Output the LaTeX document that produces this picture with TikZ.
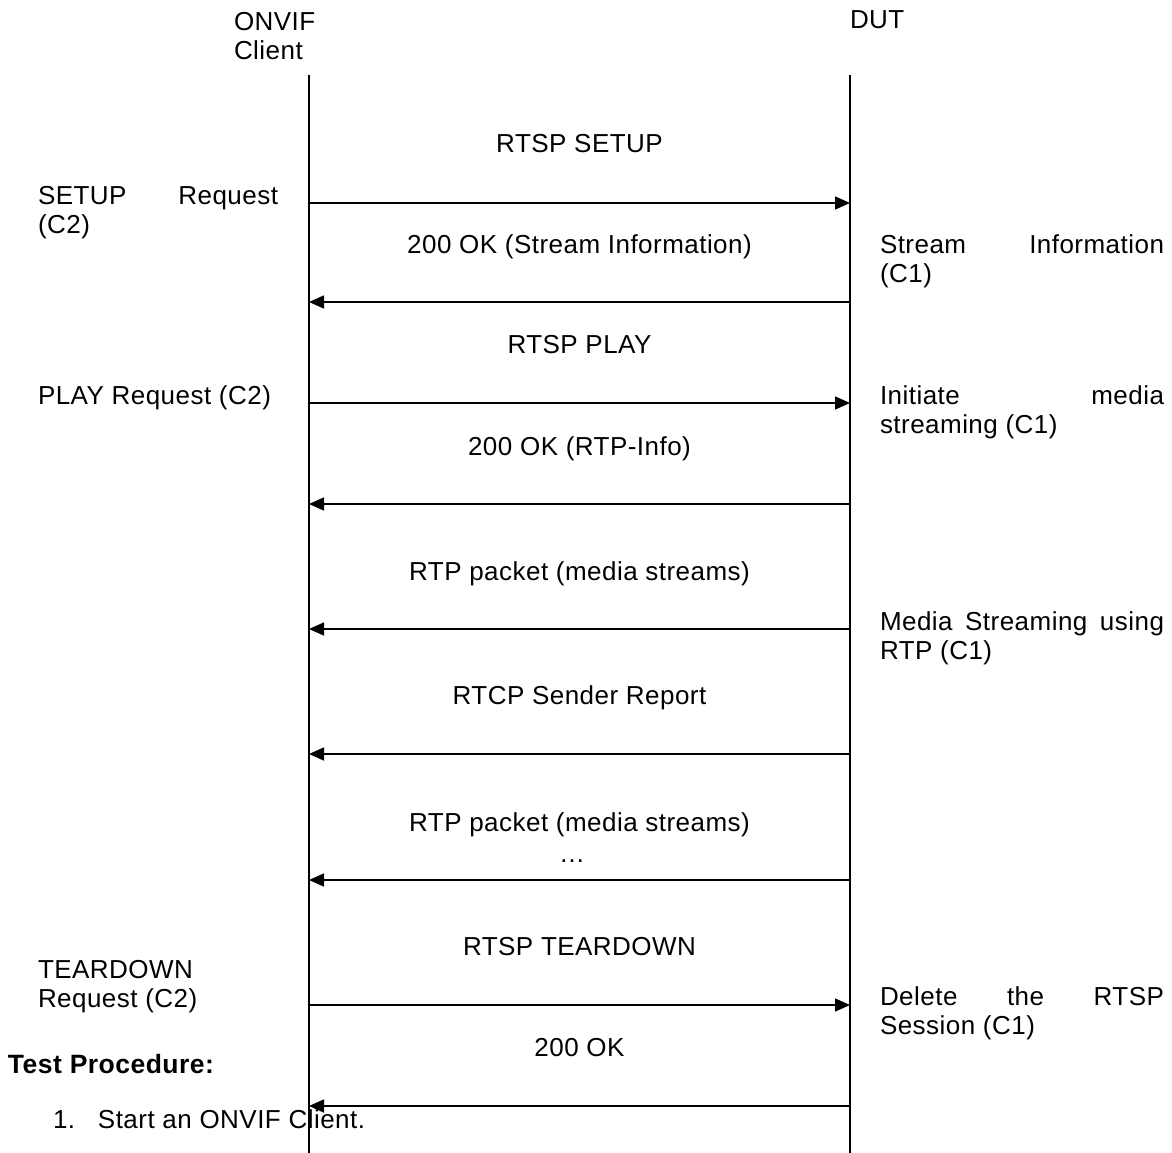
\documentclass[tikz,border=0pt]{standalone}
\usepackage{fontspec}
\setmainfont[LetterSpace=1.8]{Liberation Sans}
\usetikzlibrary{arrows.meta}
\begin{document}
\begin{tikzpicture}[x=1pt,y=-1pt,
  txt/.style={inner sep=0pt,outer sep=0pt,font=\fontsize{26}{29.5}\selectfont},
  lbl/.style={txt,anchor=base},
  side/.style={txt,anchor=base west},
  life/.style={line width=1.6pt},
  msg/.style={line width=1.6pt,-{Triangle[length=15pt,width=13pt]}}]
\useasboundingbox (0,0) rectangle (1172,1153);
% headers
\node[side] (hclient) at (234,30.5) {\parbox[t]{120pt}{ONVIF\\Client}};
\node[side] (hdut) at (850,29) {DUT};
% lifelines
\coordinate (ctop) at (309,75);
\coordinate (cbot) at (309,1153);
\coordinate (dtop) at (850,75);
\coordinate (dbot) at (850,1153);
\draw[life] (ctop) -- (cbot);
\draw[life] (dtop) -- (dbot);
% message anchor points
\foreach \n/\y in {1/203,2/302,3/403,4/504,5/629,6/754,7/880,8/1005,9/1106}{
  \coordinate (c\n) at (309,\y);
  \coordinate (d\n) at (850,\y);
}
\draw[msg] (c1) -- (d1);
\draw[msg] (d2) -- (c2);
\draw[msg] (c3) -- (d3);
\draw[msg] (d4) -- (c4);
\draw[msg] (d5) -- (c5);
\draw[msg] (d6) -- (c6);
\draw[msg] (d7) -- (c7);
\draw[msg] (c8) -- (d8);
\draw[msg] (d9) -- (c9);
% message labels
\node[lbl] (m1) at (579.5,152) {RTSP SETUP};
\node[lbl] (m2) at (579.5,253) {200 OK (Stream Information)};
\node[lbl] (m3) at (579.5,353) {RTSP PLAY};
\node[lbl] (m4) at (579.5,455) {200 OK (RTP-Info)};
\node[lbl] (m5) at (579.5,580) {RTP packet (media streams)};
\node[lbl] (m6) at (579.5,704) {RTCP Sender Report};
\node[lbl] (m7) at (579.5,831) {RTP packet (media streams)};
\node[lbl] (m7b) at (572,862) {…};
\node[lbl] (m8) at (579.5,955) {RTSP TEARDOWN};
\node[lbl] (m9) at (579.5,1056) {200 OK};
% client side notes
\node[side] (n1) at (38,204) {\parbox[t]{240pt}{\makebox[240pt][s]{SETUP Request}\\(C2)}};
\node[side] (n2) at (38,404) {PLAY Request (C2)};
\node[side] (n3) at (38,978) {\parbox[t]{240pt}{TEARDOWN\\Request (C2)}};
% DUT side notes
\node[side] (r1) at (880,253) {\parbox[t]{284pt}{\makebox[284pt][s]{Stream Information}\\(C1)}};
\node[side] (r2) at (880,404) {\parbox[t]{284pt}{\makebox[284pt][s]{Initiate media}\\streaming (C1)}};
\node[side] (r3) at (880,630) {\parbox[t]{284pt}{\makebox[284pt][s]{Media Streaming using}\\RTP (C1)}};
\node[side] (r4) at (880,1005) {\parbox[t]{284pt}{\makebox[284pt][s]{Delete the RTSP}\\Session (C1)}};
% test procedure
\node[side,font=\fontsize{26.5}{30}\selectfont\bfseries] (tp) at (8,1073) {Test Procedure:};
\node[side] (st1) at (53,1128) {\makebox[45pt][l]{1.}Start an ONVIF Client.};
\end{tikzpicture}
\end{document}
